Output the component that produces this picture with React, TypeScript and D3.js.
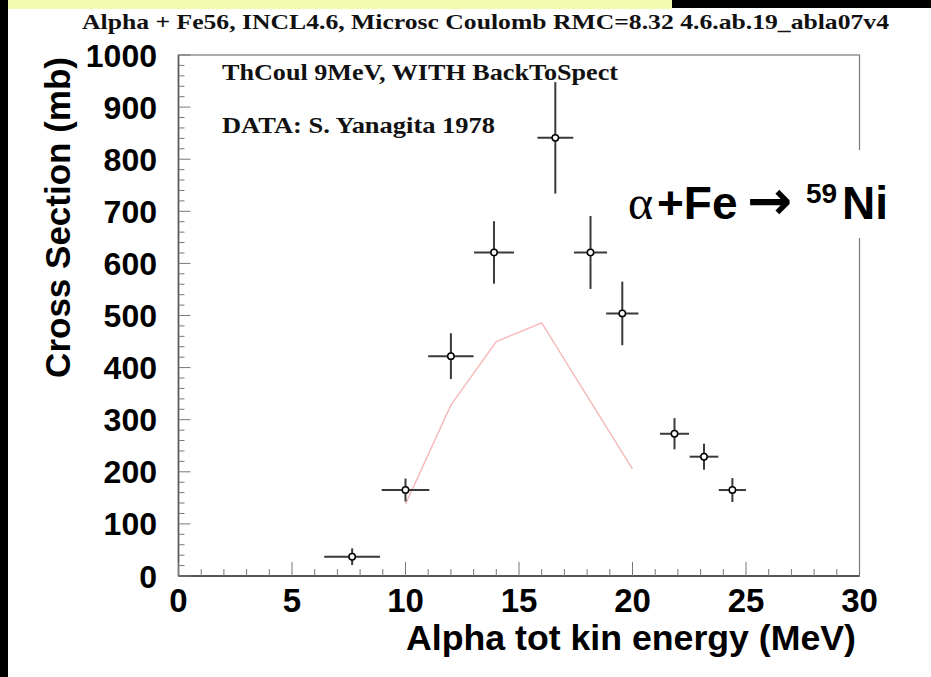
import React from "react";
import * as d3 from "d3";

// Data
const energies = [7.65, 10.0, 12.0, 13.9, 16.6, 18.15, 19.55, 21.85, 23.15, 24.4];
const energyErr = [1.23, 1.05, 1.0, 0.88, 0.79, 0.73, 0.71, 0.64, 0.63, 0.6];
const crossSections = [37, 165, 422, 621, 841, 621, 504, 273, 229, 165];
const crossErr = [16, 22, 44, 60, 107, 70, 61, 30, 25, 23];
const modelEnergies = [10, 12, 14, 16, 20];
const modelValues = [138, 328, 450, 486, 205];
const xTickValues = [0, 5, 10, 15, 20, 25, 30];
const yTickValues = [0, 100, 200, 300, 400, 500, 600, 700, 800, 900, 1000];

const W = 931;
const H = 677;
const SANS = "'Liberation Sans', Arial, Helvetica, sans-serif";
const SERIF = "'Liberation Serif', 'Times New Roman', serif";

export default function App() {
  const x = d3.scaleLinear().domain([0, 30]).range([178.5, 859.5]);
  const y = d3.scaleLinear().domain([0, 1000]).range([576, 55]);
  const xMinor = d3.range(0, 31, 1);
  const yMinor = d3.range(0, 1001, 20);
  const line = d3
    .line<number>()
    .x((_, i) => x(modelEnergies[i]))
    .y((d) => y(d));

  const [x0, x1] = x.range();
  const [y0, y1] = y.range();

  return (
    <svg
      width={W}
      height={H}
      style={{ position: "absolute", left: 0, top: 0, background: "#fff" }}
    >
      <rect x={0} y={0} width={W} height={H} fill="#fff" />
      {/* banners */}
      <rect x={0} y={0} width={8} height={H} fill="#000" />
      <rect x={8} y={0} width={664} height={9} fill="#f1fcb0" />
      <rect x={672} y={0} width={W - 672} height={8} fill="#000" />

      {/* title */}
      <text
        x={82}
        y={29}
        fontFamily={SERIF}
        fontWeight="bold"
        fontSize={22}
        textLength={807}
        lengthAdjust="spacingAndGlyphs"
        fill="#111"
      >
        Alpha + Fe56, INCL4.6, Microsc Coulomb RMC=8.32 4.6.ab.19_abla07v4
      </text>

      {/* frame */}
      <rect
        x={x0}
        y={y1}
        width={x1 - x0}
        height={y0 - y1}
        fill="none"
        stroke="#777"
        strokeWidth={1.2}
      />
      <line x1={x0} x2={x1} y1={y0} y2={y0} stroke="#555" strokeWidth={2} />
      <line x1={x0} x2={x0} y1={y0} y2={y1} stroke="#555" strokeWidth={1.6} />

      {/* x ticks */}
      {xMinor.map((v) => (
        <line
          key={"xt" + v}
          x1={x(v)}
          x2={x(v)}
          y1={y0}
          y2={y0 - (v % 5 === 0 ? 14 : 7)}
          stroke="#777"
          strokeWidth={1}
        />
      ))}
      {/* y ticks */}
      {yMinor.map((v) => (
        <line
          key={"yt" + v}
          x1={x0}
          x2={x0 + (v % 100 === 0 ? 12 : 6)}
          y1={y(v)}
          y2={y(v)}
          stroke="#777"
          strokeWidth={1}
        />
      ))}

      {/* tick labels */}
      {xTickValues.map((v) => (
        <text
          key={"xl" + v}
          x={x(v)}
          y={612}
          textAnchor="middle"
          fontFamily={SANS}
          fontWeight="bold"
          fontSize={33}
          fill="#000"
        >
          {v}
        </text>
      ))}
      {yTickValues.map((v) => (
        <text
          key={"yl" + v}
          x={157}
          y={y(v) + 11.5}
          textAnchor="end"
          fontFamily={SANS}
          fontWeight="bold"
          fontSize={32}
          fill="#000"
        >
          {v}
        </text>
      ))}

      {/* axis titles */}
      <text
        x={856}
        y={650}
        textAnchor="end"
        fontFamily={SANS}
        fontWeight="bold"
        fontSize={35}
        textLength={450}
        lengthAdjust="spacingAndGlyphs"
        fill="#000"
      >
        Alpha tot kin energy (MeV)
      </text>
      <text
        transform="translate(70,57) rotate(-90)"
        textAnchor="end"
        fontFamily={SANS}
        fontWeight="bold"
        fontSize={35}
        fill="#000"
      >
        Cross Section (mb)
      </text>

      {/* in-frame notes */}
      <text
        x={222}
        y={80}
        fontFamily={SERIF}
        fontWeight="bold"
        fontSize={24}
        textLength={396}
        lengthAdjust="spacingAndGlyphs"
        fill="#111"
      >
        ThCoul 9MeV, WITH BackToSpect
      </text>
      <text
        x={222}
        y={133}
        fontFamily={SERIF}
        fontWeight="bold"
        fontSize={24}
        textLength={273}
        lengthAdjust="spacingAndGlyphs"
        fill="#111"
      >
        DATA: S. Yanagita 1978
      </text>

      {/* model curve */}
      <path
        d={line(modelValues) || ""}
        fill="none"
        stroke="#f6b8b8"
        strokeWidth={1.4}
      />

      {/* data with error bars */}
      {energies.map((e, i) => {
        const cx = x(e);
        const cy = y(crossSections[i]);
        return (
          <g key={"p" + i}>
            <line
              x1={x(e - energyErr[i])}
              x2={x(e + energyErr[i])}
              y1={cy}
              y2={cy}
              stroke="#3a3a3a"
              strokeWidth={2}
            />
            <line
              x1={cx}
              x2={cx}
              y1={y(crossSections[i] - crossErr[i])}
              y2={y(crossSections[i] + crossErr[i])}
              stroke="#3a3a3a"
              strokeWidth={2}
            />
            <circle cx={cx} cy={cy} r={3.2} fill="#fff" stroke="#000" strokeWidth={1.5} />
          </g>
        );
      })}

      {/* annotation box */}
      <rect x={620} y={150} width={290} height={88} fill="#fff" />
      <text fontFamily={SANS} fontWeight="bold" fill="#000">
        <tspan x={628} y={219} fontFamily={SERIF} fontWeight="normal" fontSize={48}>
          α
        </tspan>
        <tspan x={657} y={219} fontSize={46}>+Fe</tspan>
        <tspan x={747} y={219} fontFamily="'DejaVu Sans', sans-serif" fontSize={54}>
          →
        </tspan>
        <tspan x={806} y={203} fontSize={28}>59</tspan>
        <tspan x={842} y={219} fontSize={46}>Ni</tspan>
      </text>
    </svg>
  );
}
